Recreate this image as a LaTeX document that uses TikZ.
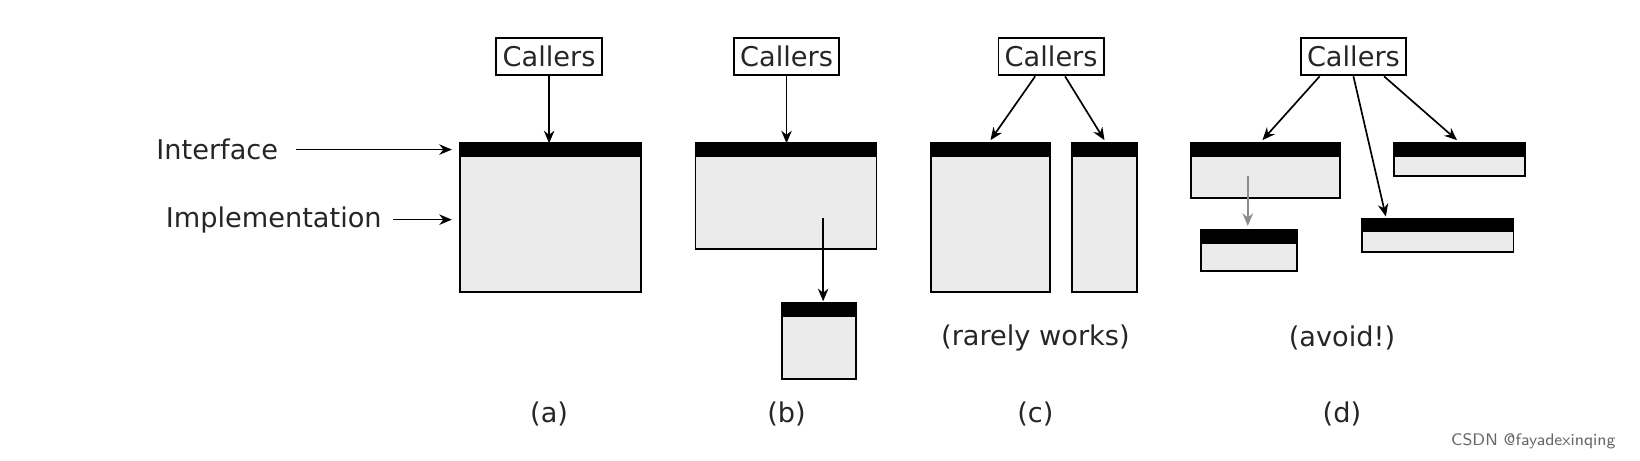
\documentclass[tikz,border=0pt]{standalone}
\usepackage{fontspec}
\setmainfont{DejaVu Sans}
\usetikzlibrary{arrows.meta}
\begin{document}
\begin{tikzpicture}[x=0.5pt,y=-0.5pt,
  caller/.style={draw,line width=0.9pt,inner xsep=3pt,inner ysep=4pt,font=\fontsize{13}{15}\selectfont,text=black!85},
  lbl/.style={font=\fontsize{13}{15}\selectfont,text=black!85},
  body/.style={draw,line width=0.9pt,fill=black!8},
  bar/.style={fill=black},
  arr/.style={-{Stealth[length=6pt,width=5pt]},line width=0.8pt}]
\useasboundingbox (0,0) rectangle (1568,440);
\newcommand{\modbox}[5]{% name, x1,y1,x2,y2
  \draw[body] (#2,#3) rectangle (#4,#5);
  \fill[bar] (#2,#3) rectangle (#4,#3+13);
  \coordinate (#1) at ({(#2+#4)/2},#3);}
% (a)
\node[caller] (ca) at (525,54) {Callers};
\modbox{ma}{440}{137}{613}{279}
\draw[arr] (ca.south) -- (ca.south |- ma);
\node[lbl,anchor=east] (iface) at (273,143) {Interface};
\node[lbl,anchor=east] (impl) at (372,210) {Implementation};
\coordinate (ia) at (432,143);
\coordinate (ib) at (432,210);
\draw[arr] (iface.east) ++(10,0) -- (ia);
\draw[arr] (impl.east) ++(4,0) -- (ib);
\node[lbl] (la) at (525,396) {(a)};
% (b)
\node[caller] (cb) at (752,54) {Callers};
\modbox{mb}{665}{137}{838}{238}
\modbox{mb2}{748}{290}{818}{362}
\draw[arr] (cb.south) -- (cb.south |- mb);
\coordinate (bs) at (787,208);
\draw[arr] (bs) -- (787,288);
\node[lbl] (lb) at (752,396) {(b)};
% (c)
\node[caller] (cc) at (1005,54) {Callers};
\modbox{mc1}{890}{137}{1004}{279}
\modbox{mc2}{1025}{137}{1087}{279}
\coordinate (cl) at (947,134);
\coordinate (cr) at (1056,134);
\draw[arr] (cc.south west) ++(36,0) -- (cl);
\draw[arr] (cc.south east) ++(-38,0) -- (cr);
\node[lbl] (rw) at (990,323) {(rarely works)};
\node[lbl] (lc) at (990,396) {(c)};
% (d)
\node[caller] (cd) at (1294,54) {Callers};
\modbox{md1}{1139}{137}{1281}{189}
\modbox{md2}{1148}{220}{1240}{259}
\modbox{md3}{1333}{137}{1458}{168}
\modbox{md4}{1302}{209}{1447}{241}
\coordinate (d1) at (1207,134);
\coordinate (d4) at (1325,207);
\coordinate (d3) at (1393,134);
\draw[arr] (cd.south west) ++(19,0) -- (d1);
\draw[arr] (cd.south) -- (d4);
\draw[arr] (cd.south east) ++(-22,0) -- (d3);
\coordinate (ds) at (1193,168);
\draw[arr,draw=black!45] (ds) -- (1193,216);
\node[lbl] (av) at (1283,323) {(avoid!)};
\node[lbl] (ld) at (1283,396) {(d)};
\node[font=\fontsize{8}{9}\selectfont\sffamily,text=black!60] (wm) at (1466,422) {CSDN @fayadexinqing};
\end{tikzpicture}
\end{document}
